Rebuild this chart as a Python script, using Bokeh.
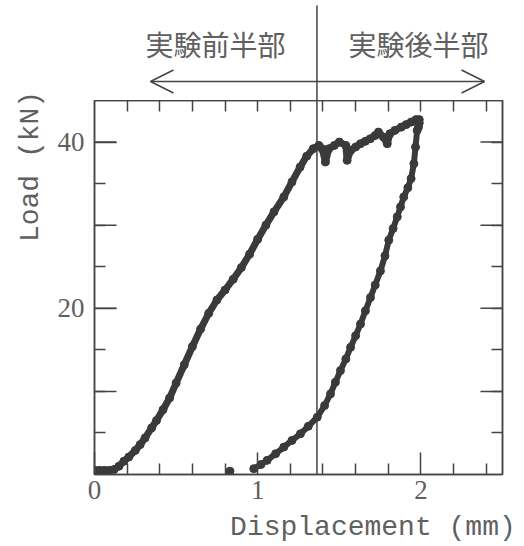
import math
from bokeh.plotting import figure
from bokeh.models import Range1d, LinearAxis, FixedTicker, Arrow, OpenHead
from bokeh.layouts import column, row
from bokeh.core.properties import value
from bokeh.embed import file_html
from bokeh.resources import INLINE

# ---------------- data ----------------
load_x = [0.00, 0.03, 0.06, 0.09, 0.12, 0.15, 0.18, 0.21, 0.25, 0.28, 0.31, 0.35, 0.38,
          0.42, 0.46, 0.50, 0.55, 0.60, 0.65, 0.70, 0.75, 0.80, 0.85, 0.90, 0.95, 1.00,
          1.05, 1.10, 1.16, 1.21, 1.26, 1.30, 1.34, 1.375, 1.395, 1.415, 1.436, 1.47, 1.50,
          1.54, 1.548, 1.57, 1.60, 1.63, 1.66, 1.69, 1.72, 1.74, 1.77, 1.794, 1.81, 1.84,
          1.88, 1.91, 1.94, 1.97, 1.99]
load_y = [0.5, 0.5, 0.5, 0.5, 0.6, 1.0, 1.6, 2.1, 2.9, 3.6, 4.4, 5.6, 6.5,
          7.8, 9.2, 11.0, 13.2, 15.4, 17.5, 19.4, 21.0, 22.2, 23.5, 24.9, 26.5, 28.3,
          30.0, 31.6, 33.4, 35.2, 37.0, 38.3, 39.2, 39.6, 39.2, 37.6, 39.2, 39.6, 40.0,
          39.6, 37.8, 39.0, 39.4, 39.8, 40.1, 40.4, 40.8, 41.2, 40.6, 39.8, 41.0, 41.4,
          41.8, 42.1, 42.4, 42.7, 42.7]

unload_x = [1.99, 1.985, 1.977, 1.967, 1.957, 1.94, 1.92, 1.895, 1.875, 1.855, 1.83,
            1.803, 1.78, 1.752, 1.72, 1.691, 1.66, 1.63, 1.60, 1.569, 1.54, 1.507, 1.476,
            1.446, 1.41, 1.365, 1.31, 1.262, 1.21, 1.160, 1.11, 1.058, 1.02, 0.976]
unload_y = [42.3, 41.8, 41.4, 39.4, 37.4, 35.6, 34.5, 33.4, 32.2, 31.0, 29.6,
            28.2, 26.3, 24.5, 22.8, 21.3, 19.7, 18.1, 16.7, 15.3, 13.9, 12.5, 11.1,
            9.7, 8.3, 6.9, 5.8, 4.9, 4.1, 3.3, 2.5, 1.7, 1.2, 0.7]

stray_x = [0.83]
stray_y = [0.4]

split_x = 1.363                       # boundary between the two halves of the test
half_labels = ["実験前半部", "実験後半部"]
half_label_x = [0.741, 1.985]
arrow_x = [0.343, 2.39]

x_range_max = 2.5
y_range_max = 45
x_major = [0, 1, 2]                   # labelled bottom ticks ("0" sits at the corner)
x_minor = [0.2, 0.4, 0.6, 0.8, 1.2, 1.4, 1.6, 1.8, 2.2, 2.4]
x_all_minor = [0.2, 0.4, 0.6, 0.8, 1.0, 1.2, 1.4, 1.6, 1.8, 2.0, 2.2, 2.4]
y_labelled = [20, 40]
y_long = [10, 20, 30, 40]
y_minor = [5, 10, 15, 25, 30, 35]
y_all_minor = [5, 10, 15, 20, 25, 30, 35, 40]
x_title = "Displacement (mm)"
y_title = "Load (kN)"

INK = "#3a3a3a"
LINE = "#444444"
TXT = "#606060"

# ---------------- geometry ----------------
W, H = 524, 546
FRAME_L, FRAME_R = 94, 502            # plot box in page pixels
TOP_H = 100                           # strip above the box
LEFT_W = 50                           # strip with the y title
BOT_H = 34                            # strip with the x title
MAIN_H = 374 + 38
PX_PER_MM = (FRAME_R - FRAME_L) / x_range_max
page_x_range = (-FRAME_L / PX_PER_MM, (W - FRAME_L) / PX_PER_MM)


def bare(width, height, xr, yr):
    f = figure(width=width, height=height, output_backend="svg", toolbar_location=None,
               x_range=Range1d(*xr), y_range=Range1d(*yr), min_border=0,
               x_axis_location=None, y_axis_location=None)
    f.grid.visible = False
    f.outline_line_color = None
    f.background_fill_color = "white"
    f.border_fill_color = "white"
    return f


# ---------- left strip: y title ----------
LH = TOP_H + MAIN_H
left = bare(LEFT_W, LH, (0, LEFT_W), (0, LH))
left.text(x=[30], y=[LH - 166], text=[y_title], text_font=value("Liberation Mono"),
          text_font_size="28px", text_color=TXT, text_align="center",
          text_baseline="middle", angle=math.pi / 2)

# ---------- top strip (frame is aligned with the main box) ----------
top = bare(W - LEFT_W, TOP_H, (0, x_range_max), (0, TOP_H))
top.min_border_left = FRAME_L - LEFT_W
top.min_border_right = W - FRAME_R
top.text(x=half_label_x, y=[57, 57], text=half_labels, text_font=value("Noto Sans CJK JP"),
         text_font_size="28px", text_color=TXT, text_align="center", text_baseline="middle")
top.segment(x0=[split_x], y0=[0], x1=[split_x], y1=[95], line_color=LINE, line_width=1.5)
top.add_layout(Arrow(start=OpenHead(size=23, line_color=LINE, line_width=1.5),
                     end=OpenHead(size=23, line_color=LINE, line_width=1.5),
                     x_start=arrow_x[0], y_start=19, x_end=arrow_x[1], y_end=19,
                     line_color=LINE, line_width=1.5))

# ---------- main plot ----------
p = figure(width=W - LEFT_W, height=MAIN_H, output_backend="svg", toolbar_location=None,
           x_range=Range1d(0, x_range_max), y_range=Range1d(0, y_range_max),
           min_border_left=FRAME_L - LEFT_W, min_border_right=W - FRAME_R,
           min_border_top=0, min_border_bottom=38,
           x_axis_location=None, y_axis_location=None)
p.grid.visible = False
p.outline_line_color = LINE
p.outline_line_width = 1.5
p.background_fill_color = "white"
p.border_fill_color = "white"


def make_axis(major, minor, major_len):
    ax = LinearAxis(ticker=FixedTicker(ticks=major, minor_ticks=minor))
    ax.major_tick_in = major_len
    ax.major_tick_out = 0
    ax.minor_tick_in = 11
    ax.minor_tick_out = 0
    ax.axis_line_color = LINE
    ax.axis_line_width = 1.5
    ax.major_tick_line_color = LINE
    ax.major_tick_line_width = 1.5
    ax.minor_tick_line_color = LINE
    ax.minor_tick_line_width = 1.5
    ax.major_label_text_font = "Liberation Serif"
    ax.major_label_text_color = TXT
    ax.major_label_text_font_size = "27px"
    return ax


xb = make_axis(x_major, x_minor, 22)
xb.major_label_standoff = 6
p.add_layout(xb, "below")
p.add_layout(make_axis([], x_all_minor, 22), "above")
yl = make_axis(y_labelled, y_minor, 22)
yl.major_label_standoff = 10
p.add_layout(yl, "left")
p.add_layout(make_axis([], y_all_minor, 22), "right")

# longer (unlabelled) ticks at 10, 30 on the left and every 10 on the right
p.ray(x=[0] * len(y_long), y=y_long, length=22, length_units="screen", angle=0,
      line_color=LINE, line_width=1.5)
p.ray(x=[x_range_max] * len(y_long), y=y_long, length=22, length_units="screen",
      angle=math.pi, line_color=LINE, line_width=1.5)

# boundary line inside the box
p.segment(x0=[split_x], y0=[0], x1=[split_x], y1=[y_range_max], line_color=LINE,
          line_width=1.5)

# data
p.line(load_x, load_y, line_width=7, line_color=INK)
p.scatter(load_x, load_y, size=8, fill_color=INK, line_color=INK)
p.line(unload_x, unload_y, line_width=6, line_color=INK)
p.scatter(unload_x, unload_y, size=8, fill_color=INK, line_color=INK)
p.scatter(stray_x, stray_y, size=8, fill_color=INK, line_color=INK)

# ---------- bottom strip (full width): x title ----------
bot = bare(W, BOT_H, page_x_range, (0, BOT_H))
bot.text(x=[1.706], y=[BOT_H - 15], text=[x_title], text_font=value("Liberation Mono"),
         text_font_size="28px", text_color=TXT, text_align="center", text_baseline="middle")

layout = column(row(left, column(top, p)), bot)
open("out.html", "w").write(file_html(layout, INLINE))
